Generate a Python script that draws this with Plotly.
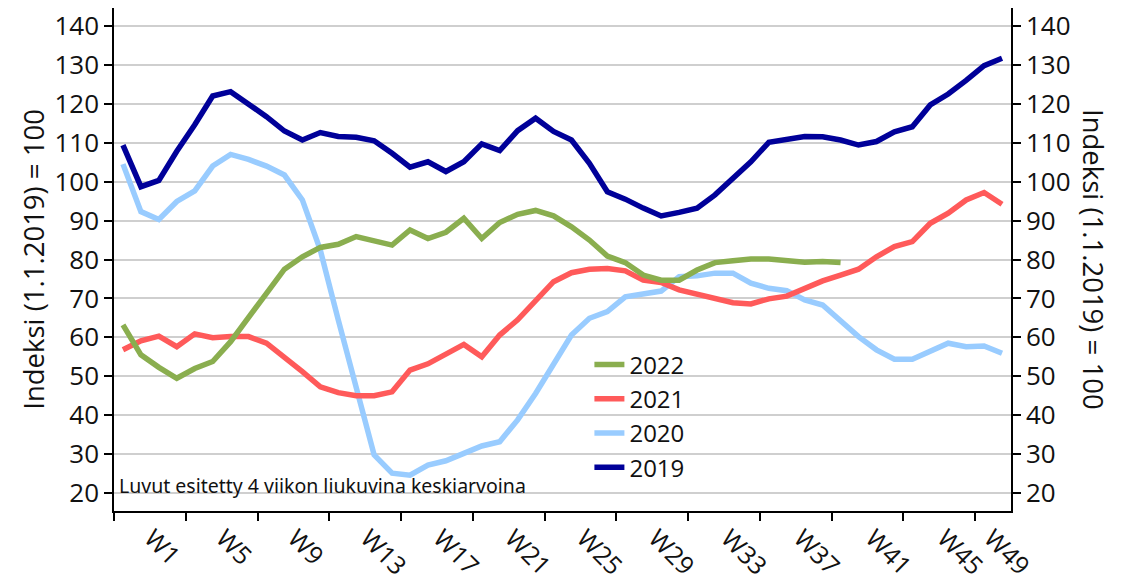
import plotly.graph_objects as go

weeks = list(range(1, 51))

y2019 = [109.4, 98.7, 100.3, 107.8, 114.6, 122.0, 123.1, 120.1, 116.7, 113.0,
         110.7, 112.6, 111.6, 111.4, 110.5, 107.3, 103.7, 105.1, 102.6, 105.1,
         109.7, 108.0, 113.1, 116.3, 112.9, 110.7, 104.7, 97.4, 95.5, 93.2,
         91.2, 92.1, 93.2, 96.6, 100.9, 105.1, 110.1, 110.9, 111.6, 111.5,
         110.7, 109.4, 110.3, 112.8, 114.1, 119.7, 122.5, 126.0, 129.8, 131.7]

y2020 = [104.5, 92.3, 90.3, 94.9, 97.6, 104.0, 107.0, 105.7, 104.0, 101.7,
         95.3, 82.4, 64.5, 46.5, 29.8, 25.1, 24.6, 27.2, 28.3, 30.2,
         32.1, 33.2, 38.8, 45.6, 53.3, 60.6, 64.9, 66.6, 70.4, 71.1,
         71.9, 75.6, 75.8, 76.5, 76.5, 73.9, 72.6, 72.0, 69.6, 68.3,
         64.3, 60.2, 56.8, 54.4, 54.4, 56.3, 58.5, 57.6, 57.8, 55.9]

y2021 = [56.8, 59.1, 60.3, 57.6, 60.9, 59.9, 60.2, 60.2, 58.5, 55.0,
         51.2, 47.3, 45.8, 45.0, 45.0, 46.0, 51.6, 53.2, 55.9, 58.2,
         55.0, 60.6, 64.5, 69.6, 74.3, 76.6, 77.5, 77.7, 77.1, 74.7,
         74.1, 72.2, 71.1, 70.0, 68.9, 68.6, 69.9, 70.6, 72.6, 74.5,
         76.0, 77.5, 80.7, 83.3, 84.6, 89.3, 91.9, 95.3, 97.2, 94.2]

y2022 = [63.2, 55.5, 52.3, 49.5, 52.0, 53.8, 58.9, 64.9, 71.3, 77.5,
         80.7, 83.1, 83.9, 85.9, 84.8, 83.7, 87.6, 85.4, 87.0, 90.6,
         85.4, 89.5, 91.6, 92.6, 91.2, 88.4, 85.0, 80.9, 79.2, 76.0,
         74.7, 74.7, 77.3, 79.2, 79.7, 80.1, 80.1, 79.6, 79.3, 79.5,
         79.2]

tick_labels = ["W1", "W5", "W9", "W13", "W17", "W21", "W25", "W29", "W33",
               "W37", "W41", "W45", "W49"]
label_pos = [2.6, 6.6, 10.6, 14.65, 18.7, 22.7, 26.7, 30.7, 34.75, 38.8, 42.8, 46.8, 49.4]
tick_marks = [0.5 + 4 * i for i in range(13)]
y_ticks = list(range(20, 150, 10))

colors = {"2022": "#8AAE4F", "2021": "#FF5A5A", "2020": "#99CCFF", "2019": "#000099"}
FONT = "Open Sans"
LW = 5.5

fig = go.Figure()
fig.add_trace(go.Scatter(x=weeks, y=y2019, name="2019", mode="lines",
                         line=dict(color=colors["2019"], width=LW), yaxis="y2"))
fig.add_trace(go.Scatter(x=weeks, y=y2020, name="2020", mode="lines",
                         line=dict(color=colors["2020"], width=LW)))
fig.add_trace(go.Scatter(x=weeks, y=y2021, name="2021", mode="lines",
                         line=dict(color=colors["2021"], width=LW)))
fig.add_trace(go.Scatter(x=weeks[:len(y2022)], y=y2022, name="2022", mode="lines",
                         line=dict(color=colors["2022"], width=LW)))

yrange = [15.4, 144.6]
# page body has an 8px margin, so the plot area is placed 8px up/left in figure coords
fig.update_layout(
    width=1133, height=583,
    margin=dict(l=106, r=130, t=0, b=80, autoexpand=False),
    paper_bgcolor="white", plot_bgcolor="white",
    font=dict(family=FONT, size=26, color="#111111"),
    showlegend=True,
    legend=dict(x=0.53, y=0.335, xanchor="left", yanchor="top",
                traceorder="reversed", bgcolor="rgba(0,0,0,0)",
                font=dict(size=24), tracegroupgap=0),
    xaxis=dict(range=[0.5, 50.5], tickmode="array", tickvals=label_pos,
               ticktext=tick_labels, tickangle=45, ticks="outside", ticklen=1,
               tickcolor="rgba(0,0,0,0)", showgrid=False, zeroline=False,
               showline=True, linecolor="black", linewidth=1.5, automargin=False,
               ticklabeloverflow="allow", tickfont=dict(size=25),
               minor=dict(tickmode="array", tickvals=tick_marks, ticks="outside",
                          ticklen=8, tickcolor="black", tickwidth=1.5, showgrid=False)),
    yaxis=dict(range=yrange, tickmode="array", tickvals=y_ticks, ticks="outside",
               ticklen=8, tickcolor="black", tickwidth=1.5, showline=True,
               linecolor="black", linewidth=1.5, showgrid=True, automargin=False,
               gridcolor="#CFCFCF", gridwidth=1.5, zeroline=False,
               ticklabeloverflow="allow", tickfont=dict(size=26)),
    yaxis2=dict(range=yrange, tickmode="array", tickvals=y_ticks, ticks="outside",
                ticklen=8, tickcolor="black", tickwidth=1.5, showline=True,
                linecolor="black", linewidth=1.5, showgrid=False, zeroline=False,
                automargin=False, overlaying="y", side="right",
                ticklabeloverflow="allow", tickfont=dict(size=26)),
)

fig.add_annotation(text="Indeksi (1.1.2019) = 100", xref="paper", yref="paper",
                   x=-0.09, y=0.5, xanchor="center", yanchor="middle",
                   textangle=-90, showarrow=False, font=dict(size=27.5, family=FONT))
fig.add_annotation(text="Indeksi (1.1.2019) = 100", xref="paper", yref="paper",
                   x=1.092, y=0.5, xanchor="center", yanchor="middle",
                   textangle=90, showarrow=False, font=dict(size=27.5, family=FONT))
fig.add_annotation(text="Luvut esitetty 4 viikon liukuvina keskiarvoina",
                   xref="paper", yref="paper", x=0.003, y=0.05,
                   xanchor="left", yanchor="middle", showarrow=False,
                   font=dict(size=19.5, family="Noto Sans"))

fig.write_html("out.html")
